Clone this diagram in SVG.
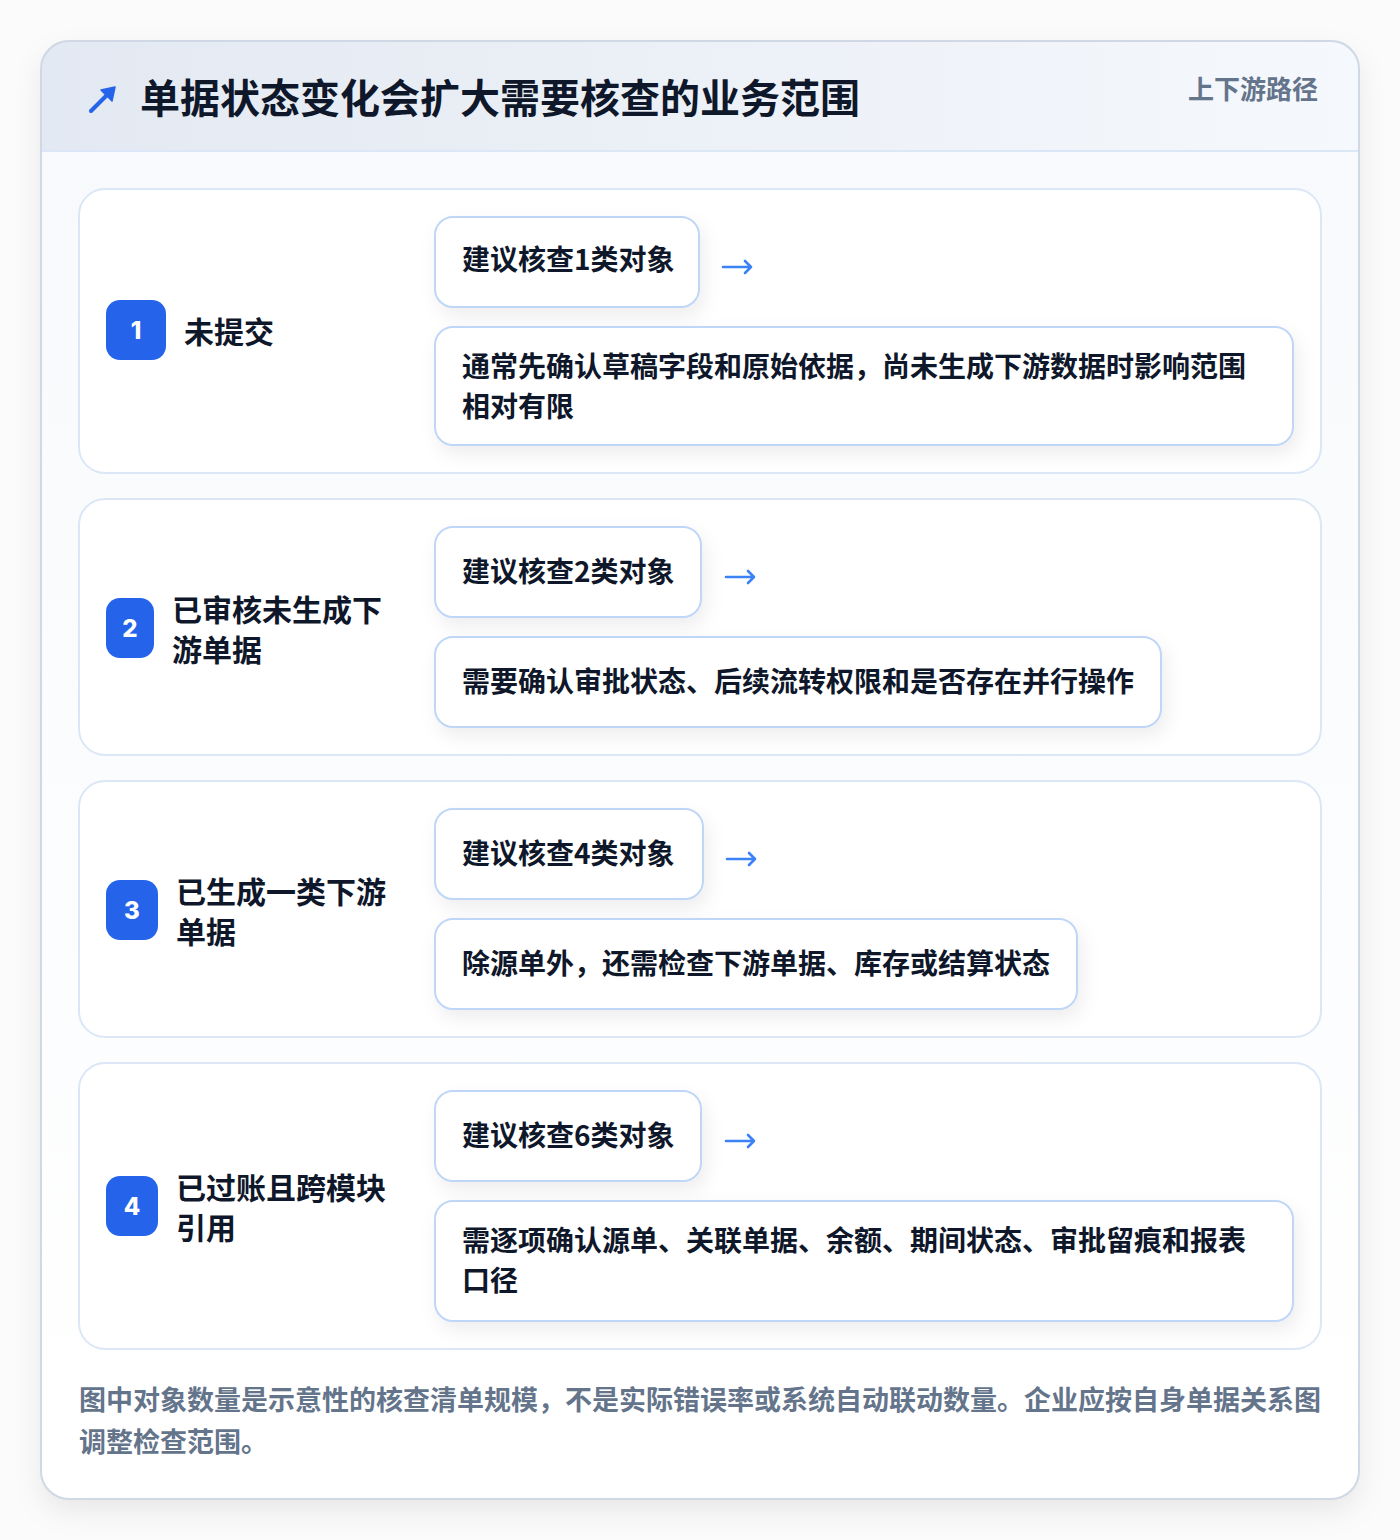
<svg xmlns="http://www.w3.org/2000/svg" width="1400" height="1540" viewBox="0 0 1400 1540">
<defs>
<linearGradient id="hdr" x1="0" y1="0" x2="1" y2="0">
<stop offset="0" stop-color="#e3e9f2"/>
<stop offset="1" stop-color="#f5f8fc"/>
</linearGradient>
<linearGradient id="body" x1="0" y1="0" x2="0" y2="1">
<stop offset="0" stop-color="#f7f9fc"/>
<stop offset="1" stop-color="#ffffff"/>
</linearGradient>
<filter id="sh" x="-10%" y="-10%" width="120%" height="120%">
<feDropShadow dx="0" dy="12" stdDeviation="14" flood-color="#0f172a" flood-opacity="0.08"/>
</filter>
<filter id="psh" x="-20%" y="-30%" width="140%" height="170%">
<feDropShadow dx="4" dy="8" stdDeviation="9" flood-color="#0f172a" flood-opacity="0.07"/>
</filter>
<clipPath id="cardClip"><rect x="41" y="41" width="1318" height="1458" rx="28"/></clipPath>
</defs>
<style>
text{font-family:"Noto Sans CJK SC","Noto Sans",sans-serif;font-weight:700}
.title{font-size:40px;fill:#0f172a}
.tag{font-size:26px;fill:#64748b}
.lbl{font-size:30px;fill:#0f172a}
.num{font-size:24px;fill:#ffffff;font-family:Inter,"Noto Sans",sans-serif;font-weight:800;text-anchor:middle}
.badge{fill:#2563eb}
.card{fill:#ffffff;stroke:#dbe7f7;stroke-width:2}
.pill{fill:#ffffff;stroke:#bfd6f6;stroke-width:2}
.pt{font-size:28px;fill:#0f172a}
.foot{font-size:27px;fill:#64748b}
.arr{fill:none;stroke:#3b82f6;stroke-width:2.6;stroke-linecap:round;stroke-linejoin:round}
</style>
<rect width="1400" height="1540" fill="#fbfbfc"/>
<g id="frame">
<rect x="41" y="41" width="1318" height="1458" rx="28" fill="url(#body)" filter="url(#sh)"/>
<rect x="41" y="41" width="1318" height="110" fill="url(#hdr)" clip-path="url(#cardClip)"/>
<line x1="41" y1="151" x2="1359" y2="151" stroke="#dbe7f7" stroke-width="2"/>
<rect x="41" y="41" width="1318" height="1458" rx="28" fill="none" stroke="#cfd8e4" stroke-width="2"/>
</g>
<g id="header">
<path d="M91 111 L108 94" fill="none" stroke="#2563eb" stroke-width="4" stroke-linecap="round"/>
<path d="M101 90 L115 87 L112 101 Z" fill="#2563eb" stroke="#2563eb" stroke-width="1.5" stroke-linejoin="round"/>
<text class="title" x="140" y="113">单据状态变化会扩大需要核查的业务范围</text>
<text class="tag" x="1318" y="99" text-anchor="end">上下游路径</text>
</g>
<g id="row1">
<rect class="card" x="79" y="189" width="1242" height="284" rx="26"/>
<rect class="badge" x="106" y="300" width="60" height="60" rx="14"/>
<text class="num" x="136" y="339">1</text>
<text class="lbl" x="184" y="343">未提交</text>
<rect class="pill" x="435" y="217" width="264" height="90" rx="18" filter="url(#psh)"/>
<text class="pt" x="462" y="270">建议核查1类对象</text>
<rect class="pill" x="435" y="327" width="858" height="118" rx="18" filter="url(#psh)"/>
<text class="pt" x="462" y="377">通常先确认草稿字段和原始依据，尚未生成下游数据时影响范围</text>
<text class="pt" x="462" y="417">相对有限</text>
</g>
<g id="row2">
<rect class="card" x="79" y="499" width="1242" height="256" rx="26"/>
<rect class="badge" x="106" y="598" width="48" height="60" rx="14"/>
<text class="num" x="130" y="637">2</text>
<text class="lbl" x="172" y="621">已审核未生成下</text>
<text class="lbl" x="172" y="661">游单据</text>
<rect class="pill" x="435" y="527" width="266" height="90" rx="18" filter="url(#psh)"/>
<text class="pt" x="462" y="582">建议核查2类对象</text>
<rect class="pill" x="435" y="637" width="726" height="90" rx="18" filter="url(#psh)"/>
<text class="pt" x="462" y="692">需要确认审批状态、后续流转权限和是否存在并行操作</text>
</g>
<g id="row3">
<rect class="card" x="79" y="781" width="1242" height="256" rx="26"/>
<rect class="badge" x="106" y="880" width="52" height="60" rx="14"/>
<text class="num" x="132" y="919">3</text>
<text class="lbl" x="176" y="903">已生成一类下游</text>
<text class="lbl" x="176" y="943">单据</text>
<rect class="pill" x="435" y="809" width="268" height="90" rx="18" filter="url(#psh)"/>
<text class="pt" x="462" y="864">建议核查4类对象</text>
<rect class="pill" x="435" y="919" width="642" height="90" rx="18" filter="url(#psh)"/>
<text class="pt" x="462" y="974">除源单外，还需检查下游单据、库存或结算状态</text>
</g>
<g id="row4">
<rect class="card" x="79" y="1063" width="1242" height="286" rx="26"/>
<rect class="badge" x="106" y="1176" width="52" height="60" rx="14"/>
<text class="num" x="132" y="1215">4</text>
<text class="lbl" x="176" y="1199">已过账且跨模块</text>
<text class="lbl" x="176" y="1239">引用</text>
<rect class="pill" x="435" y="1091" width="266" height="90" rx="18" filter="url(#psh)"/>
<text class="pt" x="462" y="1146">建议核查6类对象</text>
<rect class="pill" x="435" y="1201" width="858" height="120" rx="18" filter="url(#psh)"/>
<text class="pt" x="462" y="1251">需逐项确认源单、关联单据、余额、期间状态、审批留痕和报表</text>
<text class="pt" x="462" y="1291">口径</text>
</g>
<g id="connectors">
<path class="arr" d="M723 267 H751 M745 261 L751 267 L745 273"/>
<path class="arr" d="M726 577 H754 M748 571 L754 577 L748 583"/>
<path class="arr" d="M727 859 H755 M749 853 L755 859 L749 865"/>
<path class="arr" d="M726 1141 H754 M748 1135 L754 1141 L748 1147"/>
</g>
<g id="footer">
<text class="foot" x="79" y="1410">图中对象数量是示意性的核查清单规模，不是实际错误率或系统自动联动数量。企业应按自身单据关系图</text>
<text class="foot" x="79" y="1452">调整检查范围。</text>
</g>
</svg>
